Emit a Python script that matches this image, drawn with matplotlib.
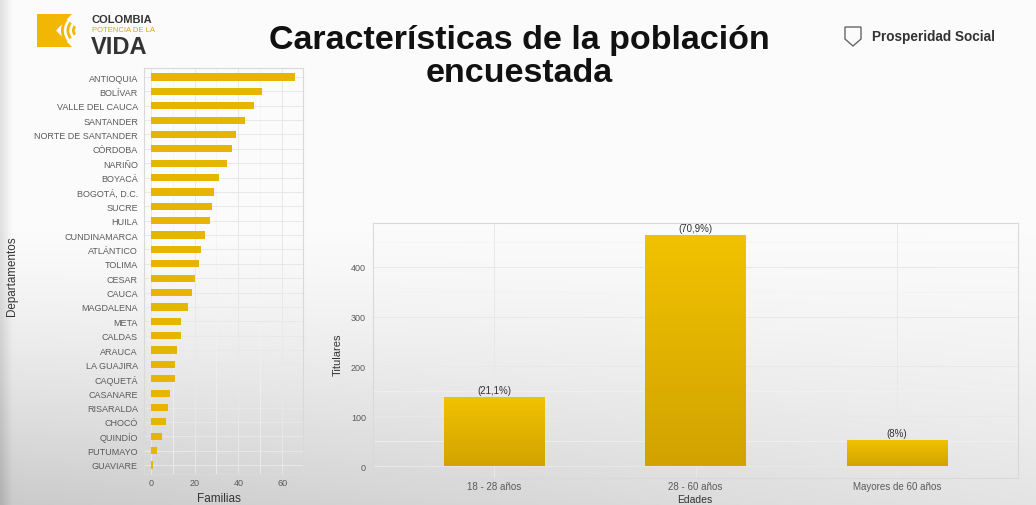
import numpy as np
import matplotlib.pyplot as plt
from matplotlib.patches import Polygon, Wedge

plt.rcParams['font.family'] = ['Liberation Sans', 'DejaVu Sans']

# data
departamentos = ["ANTIOQUIA", "BOLÍVAR", "VALLE DEL CAUCA", "SANTANDER", "NORTE DE SANTANDER",
                 "CÓRDOBA", "NARIÑO", "BOYACÁ", "BOGOTÁ, D.C.", "SUCRE", "HUILA", "CUNDINAMARCA",
                 "ATLÁNTICO", "TOLIMA", "CESAR", "CAUCA", "MAGDALENA", "META", "CALDAS", "ARAUCA",
                 "LA GUAJIRA", "CAQUETÁ", "CASANARE", "RISARALDA", "CHOCÓ", "QUINDÍO", "PUTUMAYO",
                 "GUAVIARE"]
familias = [66, 51, 47, 43, 39, 37, 35, 31, 29, 28, 27, 25, 23, 22, 20, 19, 17, 14, 14, 12,
            11, 11, 9, 8, 7, 5, 3, 1]

edades = ["18 - 28 años", "28 - 60 años", "Mayores de 60 años"]
titulares = [138, 464, 52]
pct_labels = ["(21,1%)", "(70,9%)", "(8%)"]

W, H = 1036, 506
fig = plt.figure(figsize=(W / 100, H / 100), dpi=100)

# slide background: white fading to grey at the bottom (video capture look)
bg = fig.add_axes([0, 0, 1, 1], zorder=-10)
yy, xx = np.mgrid[0:1:200j, 0:1:400j]
shade = np.clip((yy - 0.45) / 0.55, 0, 1) ** 1.3 * (0.19 - 0.10 * xx)
shade += 0.10 * np.clip(1 - xx * 90, 0, 1)
val = 0.985 - shade
bg.imshow(np.dstack([val, val, val]), extent=[0, 1, 0, 1], origin='upper', aspect='auto')
bg.set_xlim(0, 1)
bg.set_ylim(0, 1)
bg.axis('off')

grid_major = '#E8E8E8'
grid_minor = '#F2F2F2'
tick_col = '#5A5A5A'
bar_col = '#E6B500'


def style_panel(ax):
    ax.set_facecolor('none')
    for s in ax.spines.values():
        s.set_color('#D9D9D9')
        s.set_linewidth(0.8)
    ax.tick_params(length=0, labelsize=6.5, colors=tick_col)
    ax.grid(True, which='major', color=grid_major, lw=0.7)
    ax.grid(True, which='minor', color=grid_minor, lw=0.5)
    ax.set_axisbelow(True)


# left panel: families per department
ax1 = fig.add_axes([143.5 / W, 1 - 474.6 / H, 159 / W, 405.2 / H])
style_panel(ax1)
ypos = np.arange(len(departamentos))[::-1] + 1
ax1.barh(ypos, familias, height=0.5, color=bar_col, zorder=3)
ax1.set_yticks(ypos)
ax1.set_yticklabels(departamentos)
ax1.set_xticks([0, 20, 40, 60])
ax1.set_xticks([10, 30, 50], minor=True)
ax1.tick_params(axis='y', which='minor', left=False)
ax1.tick_params(axis='x', which='minor', length=0)
ax1.set_xlim(-3.3, 69.3)
ax1.set_ylim(0.4, len(departamentos) + 0.6)
ax1.tick_params(axis='y', pad=4)
ax1.tick_params(axis='x', pad=3)
ax1.set_xlabel("Familias", fontsize=8.5, color='#333333')
ax1.set_ylabel("Departamentos", fontsize=8.4, color='#333333')
ax1.xaxis.set_label_coords(0.475, -0.045)
ax1.yaxis.set_label_coords(-0.79, 0.49)

# right panel: titulares by age group
ax2 = fig.add_axes([373 / W, 1 - 479 / H, 645 / W, 255 / H])
style_panel(ax2)
xpos = np.arange(len(edades))
bars = ax2.bar(xpos, titulares, width=0.5, color=bar_col, zorder=3)
grad = np.linspace(0, 1, 100)[:, None]
cmap = plt.matplotlib.colors.LinearSegmentedColormap.from_list('gold', ['#D2A300', '#F0C200'])
for b in bars:
    x0, y0 = b.get_x(), b.get_y()
    im = ax2.imshow(grad, cmap=cmap, extent=[x0, x0 + b.get_width(), y0, y0 + b.get_height()],
                    origin='lower', aspect='auto', zorder=3.5)
    im.set_clip_path(b)
for x, v, lab in zip(xpos, titulares, pct_labels):
    ax2.text(x, v + 4, lab, ha='center', va='bottom', fontsize=7, color='#333333', zorder=4)
ax2.set_xticks(xpos)
ax2.set_xticklabels(edades, fontsize=7)
ax2.set_yticks([0, 100, 200, 300, 400])
ax2.set_yticks([50, 150, 250, 350, 450], minor=True)
ax2.tick_params(axis='y', which='minor', length=0)
ax2.set_xlim(-0.6, 2.6)
ax2.set_ylim(-23.2, 487.2)
ax2.tick_params(axis='x', pad=2)
ax2.tick_params(axis='y', pad=5)
ax2.set_xlabel("Edades", fontsize=7.5, color='#333333')
ax2.set_ylabel("Titulares", fontsize=8, color='#333333')
ax2.xaxis.set_label_coords(0.499, -0.062)
ax2.yaxis.set_label_coords(-0.047, 0.486)

# title
fig.text(519 / W, 1 - 40 / H, "Características de la población", ha='center', va='center',
         fontsize=24.5, fontweight='bold', color='#111111')
fig.text(519 / W, 1 - 73 / H, "encuestada", ha='center', va='center',
         fontsize=24.5, fontweight='bold', color='#111111')

# left logo (Colombia potencia de la vida)
lg = fig.add_axes([0, 0, 1, 1], zorder=-5)
lg.set_xlim(0, W)
lg.set_ylim(H, 0)
lg.axis('off')
lg.add_patch(Polygon([[37, 15], [72, 15], [56, 31.5], [72, 48], [37, 48]], closed=True,
                     color='#F2B705', lw=0))
for r in (8, 13.5, 19):
    lg.add_patch(Wedge((80, 31.5), r, 140, 220, width=2.8, color='#F2B705', lw=0))
lg.text(92, 20, "COLOMBIA", fontsize=8, fontweight='bold', color='#333333', va='center')
lg.text(92, 30.5, "POTENCIA DE LA", fontsize=5.5, color='#E0A800', va='center')
lg.text(91, 47, "VIDA", fontsize=17, fontweight='bold', color='#333333', va='center')

# right logo (Prosperidad Social)
lg.add_patch(Polygon([[845, 28], [861, 28], [861, 40], [853, 47], [845, 40]], closed=True,
                     fill=False, edgecolor='#666666', lw=1.0))
lg.text(872, 37, "Prosperidad Social", fontsize=9.8, fontweight='bold', color='#333333',
        va='center')

fig.savefig("out.png", dpi=100)
